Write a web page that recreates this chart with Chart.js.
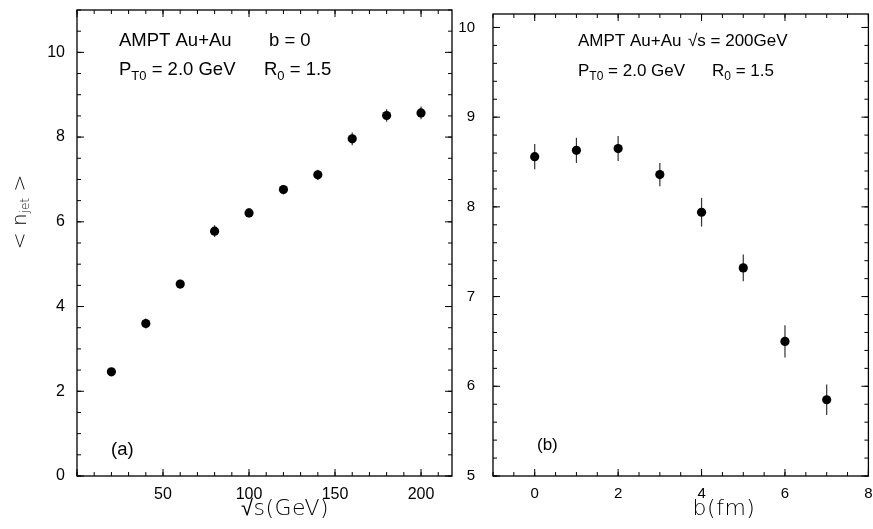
<!DOCTYPE html>
<html>
<head>
<meta charset="utf-8">
<script src="https://cdn.jsdelivr.net/npm/chart.js@4"></script>
<style>
  html, body { margin: 0; padding: 0; background: #fff; }
  #wrap { position: relative; width: 873px; height: 529px; overflow: hidden; }
  .panel { position: absolute; top: 0; height: 529px; }
  #panelA { left: 0; width: 465px; }
  #panelB { left: 453px; width: 420px; }
</style>
</head>
<body>
<div id="wrap">
  <div class="panel" id="panelA"><canvas id="chartA"></canvas></div>
  <div class="panel" id="panelB"><canvas id="chartB"></canvas></div>
</div>
<script>
// panel (a): jet multiplicity vs collision energy, b = 0
const sqrtS = [20, 40, 60, 80, 100, 120, 140, 160, 180, 200];
const njetA = [2.46, 3.60, 4.53, 5.78, 6.21, 6.76, 7.11, 7.96, 8.51, 8.57];
const errA = [0.08, 0.12, 0.10, 0.14, 0.11, 0.11, 0.12, 0.15, 0.15, 0.15];
const xTicksA = [0, 50, 100, 150, 200];
const yTicksA = [0, 2, 4, 6, 8, 10];

// panel (b): jet multiplicity vs impact parameter, sqrt(s) = 200 GeV
const bImp = [0, 1, 2, 3, 4, 5, 6, 7];
const njetB = [8.56, 8.63, 8.65, 8.36, 7.94, 7.32, 6.50, 5.85];
const errB = [0.14, 0.14, 0.14, 0.13, 0.16, 0.15, 0.18, 0.17];
const xTicksB = [0, 2, 4, 6, 8];
const yTicksB = [5, 6, 7, 8, 9, 10];

const FONT = "'Liberation Sans', Arial, Helvetica, sans-serif";
const THIN = "'DejaVu Sans', 'Liberation Sans', sans-serif";

// frame + inward ticks on all four sides (major and minor)
const framePlugin = {
    id: 'frame',
    afterDraw(chart, args, opts) {
        const { ctx, chartArea: a } = chart;
        const xs = chart.scales.x, ys = chart.scales.y;
        ctx.save();
        ctx.strokeStyle = '#000';
        ctx.lineWidth = 1.3;
        ctx.strokeRect(a.left, a.top, a.right - a.left, a.bottom - a.top);
        ctx.lineWidth = 1;
        const tick = (v, len, horiz) => {
            ctx.beginPath();
            if (horiz) {
                const px = xs.getPixelForValue(v);
                ctx.moveTo(px, a.bottom); ctx.lineTo(px, a.bottom - len);
                ctx.moveTo(px, a.top); ctx.lineTo(px, a.top + len);
            } else {
                const py = ys.getPixelForValue(v);
                ctx.moveTo(a.left, py); ctx.lineTo(a.left + len, py);
                ctx.moveTo(a.right, py); ctx.lineTo(a.right - len, py);
            }
            ctx.stroke();
        };
        for (let v = xs.min; v <= xs.max + 1e-9; v += opts.xMinor) tick(v, 4, true);
        for (let v = ys.min; v <= ys.max + 1e-9; v += opts.yMinor) tick(v, 4, false);
        opts.xMajor.forEach(v => tick(v, 7, true));
        opts.yMajor.forEach(v => tick(v, 7, false));
        ctx.restore();
    }
};

// vertical error bars drawn under the markers
const errorBarPlugin = {
    id: 'errbars',
    beforeDatasetsDraw(chart, args, opts) {
        const { ctx } = chart;
        const xs = chart.scales.x, ys = chart.scales.y;
        const ds = chart.data.datasets[0];
        ctx.save();
        ctx.strokeStyle = '#333';
        ctx.lineWidth = 1.2;
        ds.data.forEach((p, i) => {
            const px = xs.getPixelForValue(p.x);
            ctx.beginPath();
            ctx.moveTo(px, ys.getPixelForValue(p.y - opts.err[i]));
            ctx.lineTo(px, ys.getPixelForValue(p.y + opts.err[i]));
            ctx.stroke();
        });
        ctx.restore();
    }
};

// text with subscript pieces: [text, isSub]
function drawRich(ctx, parts, x, y, size) {
    let cx = x;
    const sub = Math.round(size * 0.7);
    parts.forEach(([t, isSub]) => {
        ctx.font = `${isSub ? sub : size}px ${FONT}`;
        ctx.fillText(t, cx, isSub ? y + size * 0.25 : y);
        cx += ctx.measureText(t).width;
    });
}

const textPlugin = {
    id: 'labels',
    afterDraw(chart, args, opts) {
        const { ctx } = chart;
        ctx.save();
        ctx.fillStyle = '#000';
        ctx.textBaseline = 'alphabetic';
        ctx.textAlign = 'left';
        opts.lines.forEach(l => drawRich(ctx, l.parts, l.x, l.y, opts.size));
        // axis titles
        ctx.font = `200 22px ${THIN}`;
        ctx.letterSpacing = '0.5px';
        ctx.textAlign = 'center';
        ctx.fillText(opts.xTitle.text, opts.xTitle.x, opts.xTitle.y);
        if (opts.yTitle) {
            ctx.translate(opts.yTitle.x, opts.yTitle.y);
            ctx.rotate(-Math.PI / 2);
            drawYTitle(ctx);
        }
        ctx.restore();
    }
};

function drawYTitle(ctx) {
    // "< n_jet >" centred on origin
    const a = '< n', s = 'jet', b = ' >';
    ctx.textAlign = 'left';
    ctx.letterSpacing = '0px';
    ctx.font = `200 20px ${THIN}`;
    const wa = ctx.measureText(a).width, wb = ctx.measureText(b).width;
    ctx.font = `200 12px ${THIN}`;
    const ws = ctx.measureText(s).width;
    const x0 = -(wa + ws + wb) / 2;
    ctx.font = `200 20px ${THIN}`;
    ctx.fillText(a, x0, 0);
    ctx.font = `200 12px ${THIN}`;
    ctx.fillText(s, x0 + wa, 3);
    ctx.font = `200 20px ${THIN}`;
    ctx.fillText(b, x0 + wa + ws, 0);
}

function makeChart(id, cfg) {
    return new Chart(document.getElementById(id), {
        type: 'scatter',
        data: {
            datasets: [{
                data: cfg.xs.map((x, i) => ({ x, y: cfg.ys[i] })),
                backgroundColor: '#000',
                borderWidth: 0,
                pointRadius: 4.6,
                pointHoverRadius: 4.6
            }]
        },
        options: {
            responsive: true,
            maintainAspectRatio: false,
            animation: false,
            events: [],
            layout: { padding: cfg.padding },
            plugins: {
                legend: { display: false },
                tooltip: { enabled: false },
                frame: { xMinor: cfg.xMinor, yMinor: cfg.yMinor, xMajor: cfg.xTicks, yMajor: cfg.yTicks },
                errbars: { err: cfg.err },
                labels: { lines: cfg.lines, size: cfg.textSize, xTitle: cfg.xTitle, yTitle: cfg.yTitle }
            },
            scales: {
                x: {
                    type: 'linear',
                    min: cfg.xRange[0], max: cfg.xRange[1],
                    grid: { display: false, drawTicks: false },
                    border: { display: false },
                    afterBuildTicks: s => { s.ticks = cfg.xTicks.map(v => ({ value: v })); },
                    afterFit: s => { s.height = 53; s.paddingLeft = 0; s.paddingRight = 0; },
                    ticks: {
                        padding: 9,
                        color: '#000',
                        font: { family: FONT, size: cfg.tickSize },
                        callback: v => (cfg.hideX0 && v === 0 ? '' : String(v))
                    }
                },
                y: {
                    type: 'linear',
                    min: cfg.yRange[0], max: cfg.yRange[1],
                    grid: { display: false, drawTicks: false },
                    border: { display: false },
                    afterBuildTicks: s => { s.ticks = cfg.yTicks.map(v => ({ value: v })); },
                    afterFit: s => { s.width = cfg.yWidth; s.paddingTop = 0; s.paddingBottom = 0; },
                    ticks: {
                        padding: cfg.yPad,
                        color: '#000',
                        font: { family: FONT, size: cfg.tickSize }
                    }
                }
            }
        },
        plugins: [errorBarPlugin, framePlugin, textPlugin]
    });
}

makeChart('chartA', {
    xs: sqrtS, ys: njetA, err: errA,
    xRange: [0, 218], yRange: [0, 11],
    xTicks: xTicksA, yTicks: yTicksA, xMinor: 10, yMinor: 0.5,
    hideX0: true,
    padding: { left: 0, right: 13, top: 10, bottom: 0 },
    yWidth: 77, yPad: 12, tickSize: 16, textSize: 18.5,
    lines: [
        { x: 119, y: 46, parts: [['AMPT Au+Au', false]] },
        { x: 269, y: 46, parts: [['b = 0', false]] },
        { x: 119, y: 75, parts: [['P', false], ['T0', true], [' = 2.0 GeV', false]] },
        { x: 264, y: 75, parts: [['R', false], ['0', true], [' = 1.5', false]] },
        { x: 111, y: 455, parts: [['(a)', false]] }
    ],
    xTitle: { text: '√s(GeV)', x: 285, y: 515 },
    yTitle: { x: 26, y: 212 }
});

makeChart('chartB', {
    xs: bImp, ys: njetB, err: errB,
    xRange: [-1, 8], yRange: [5, 10.15],
    xTicks: xTicksB, yTicks: yTicksB, xMinor: 0.5, yMinor: 0.2,
    hideX0: false,
    padding: { left: 0, right: 4, top: 14, bottom: 0 },
    yWidth: 40, yPad: 18, tickSize: 15, textSize: 17,
    lines: [
        { x: 578 - 453, y: 46, parts: [['AMPT Au+Au', false]] },
        { x: 688 - 453, y: 46, parts: [['√s = 200GeV', false]] },
        { x: 578 - 453, y: 76, parts: [['P', false], ['T0', true], [' = 2.0 GeV', false]] },
        { x: 712 - 453, y: 76, parts: [['R', false], ['0', true], [' = 1.5', false]] },
        { x: 537 - 453, y: 450, parts: [['(b)', false]] }
    ],
    xTitle: { text: 'b(fm)', x: 724 - 453, y: 515 },
    yTitle: null
});
</script>
</body>
</html>
